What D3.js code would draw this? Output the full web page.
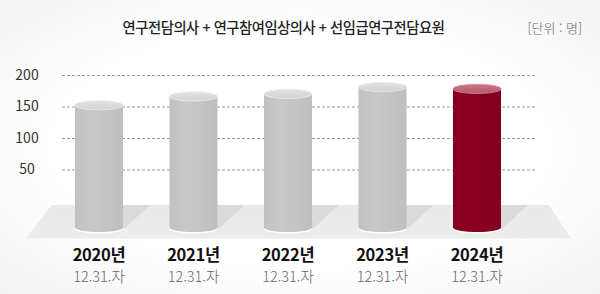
<!DOCTYPE html>
<html lang="ko">
<head>
<meta charset="utf-8">
<script src="https://cdn.jsdelivr.net/npm/d3@7"></script>
<style>
  html, body { margin: 0; padding: 0; background: #fff; }
  svg { display: block; }
  text { font-family: "Noto Sans CJK KR", "Noto Sans", sans-serif; }
</style>
</head>
<body>
<svg id="chart" width="600" height="294"></svg>
<script>
// 연도별 인원 (단위: 명)
const years = ["2020년", "2021년", "2022년", "2023년", "2024년"];
const dates = ["12.31.자", "12.31.자", "12.31.자", "12.31.자", "12.31.자"];
const values = [152, 166, 170, 181, 178];
const yTicks = [50, 100, 150, 200];
const title = "연구전담의사 + 연구참여임상의사 + 선임급연구전담요원";
const unit = "[단위 : 명]";

const W = 600, H = 294;
const svg = d3.select("#chart");
const defs = svg.append("defs");

// soft page background
const bg = defs.append("radialGradient").attr("id", "bg")
  .attr("cx", "50%").attr("cy", "50%").attr("r", "75%");
bg.append("stop").attr("offset", "0.55").attr("stop-color", "#ffffff");
bg.append("stop").attr("offset", "1").attr("stop-color", "#f0f0f0");
svg.append("rect").attr("width", W).attr("height", H).attr("fill", "url(#bg)");

// scales
const x = d3.scalePoint().domain(years).range([99, 477]);
const y = d3.scaleLinear().domain([0, 200]).range([201, 75]);
const barW = 48, rx = barW / 2, ry = 4.6;
const baseY = 227.5;   // centre of the cylinder bottoms on the floor

// title and unit
svg.append("text").attr("x", 283.5).attr("y", 32.5)
  .attr("text-anchor", "middle").attr("font-size", 14.3).attr("font-weight", 500)
  .attr("letter-spacing", -0.45).attr("fill", "#222").text(title);
svg.append("text").attr("x", 582).attr("y", 32.5)
  .attr("text-anchor", "end").attr("font-size", 13).attr("font-weight", 300)
  .attr("fill", "#666").text(unit);

// y axis: dashed gridlines with centred labels
const axis = d3.axisLeft(y).tickValues(yTicks).tickSize(-(536 - 62)).tickPadding(0);
const gAxis = svg.append("g").attr("transform", "translate(62,0)").call(axis);
gAxis.select(".domain").remove();
gAxis.selectAll(".tick line")
  .attr("stroke", "#9a9a9a").attr("stroke-width", 1).attr("stroke-dasharray", "3,2");
gAxis.selectAll(".tick text")
  .attr("x", -35).attr("text-anchor", "middle")
  .attr("font-size", 14).attr("fill", "#333")
  .attr("font-family", "Roboto, 'Noto Sans', sans-serif");

// floor
const floorG = defs.append("linearGradient").attr("id", "floor")
  .attr("x1", 0).attr("y1", 0).attr("x2", 0).attr("y2", 1);
floorG.append("stop").attr("offset", 0).attr("stop-color", "#e9e9e9");
floorG.append("stop").attr("offset", 1).attr("stop-color", "#ececec");
svg.append("path")
  .attr("d", "M51.5,205 L549,205 L571,238.5 L26,238.5 Z")
  .attr("fill", "url(#floor)");

// cast shadows on the floor
svg.append("g").selectAll("path").data(years).join("path")
  .attr("d", d => {
    const r = x(d) + rx;
    return `M${r - 2},205 L${r + 27},205 L${r - 2},${baseY + 4}Z`;
  })
  .attr("fill", "#dadada");

// cylinder gradients
function bodyGrad(id, c0, c1, c2) {
  const g = defs.append("linearGradient").attr("id", id)
    .attr("x1", 0).attr("y1", 0).attr("x2", 1).attr("y2", 0);
  g.append("stop").attr("offset", 0).attr("stop-color", c0);
  g.append("stop").attr("offset", 0.35).attr("stop-color", c1);
  g.append("stop").attr("offset", 1).attr("stop-color", c2);
}
function topGrad(id, c0, c1) {
  const g = defs.append("linearGradient").attr("id", id)
    .attr("x1", 0).attr("y1", 0).attr("x2", 0).attr("y2", 1);
  g.append("stop").attr("offset", 0).attr("stop-color", c0);
  g.append("stop").attr("offset", 1).attr("stop-color", c1);
}
bodyGrad("bodyGrey", "#c1c1c1", "#c8c8c8", "#bfbfbf");
bodyGrad("bodyRed", "#840020", "#8c0022", "#80001e");
topGrad("topGrey", "#e2e2e2", "#d2d2d2");
topGrad("topRed", "#c97785", "#b9586a");

const last = years[years.length - 1];
const bars = svg.append("g").selectAll("g").data(years).join("g");

bars.each(function (d, i) {
  const g = d3.select(this);
  const cx = x(d), top = y(values[i]);
  const red = d === last;
  // white rim under the base
  g.append("ellipse").attr("cx", cx).attr("cy", baseY + 1).attr("rx", rx + 0.5).attr("ry", ry + 0.5)
    .attr("fill", "#ffffff");
  // body with rounded bottom
  g.append("path")
    .attr("d", `M${cx - rx},${top} L${cx - rx},${baseY} A${rx},${ry} 0 0 0 ${cx + rx},${baseY} L${cx + rx},${top} Z`)
    .attr("fill", red ? "url(#bodyRed)" : "url(#bodyGrey)");
  // top face
  g.append("ellipse").attr("cx", cx).attr("cy", top).attr("rx", rx).attr("ry", ry)
    .attr("fill", red ? "url(#topRed)" : "url(#topGrey)")
    .attr("stroke", red ? "#d590a0" : "#ebebeb").attr("stroke-width", 0.8);
});

// category labels
const labels = svg.append("g").selectAll("g").data(years).join("g")
  .attr("transform", d => `translate(${x(d)},0)`);
labels.append("text").attr("y", 260.5).attr("text-anchor", "middle")
  .attr("font-family", "Roboto, 'Noto Sans CJK KR', sans-serif")
  .attr("font-size", 16.5).attr("font-weight", 700).attr("letter-spacing", -0.3)
  .attr("fill", "#111").text(d => d);
labels.append("text").attr("y", 281.5).attr("text-anchor", "middle")
  .attr("font-family", "Roboto, 'Noto Sans CJK KR', sans-serif")
  .attr("font-size", 14.5).attr("font-weight", 300)
  .attr("fill", "#666").text((d, i) => dates[i]);
</script>
</body>
</html>
